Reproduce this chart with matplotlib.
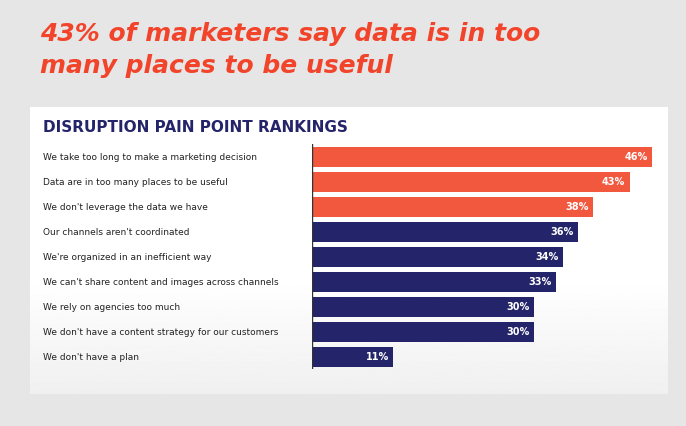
import matplotlib
matplotlib.use("Agg")
import matplotlib.pyplot as plt
import matplotlib.transforms as mtrans
import numpy as np

categories = ["We take too long to make a marketing decision",
              "Data are in too many places to be useful",
              "We don't leverage the data we have",
              "Our channels aren't coordinated",
              "We're organized in an inefficient way",
              "We can't share content and images across channels",
              "We rely on agencies too much",
              "We don't have a content strategy for our customers",
              "We don't have a plan"]
values = [46, 43, 38, 36, 34, 33, 30, 30, 11]
highlight = [True, True, True, False, False, False, False, False, False]

RED = "#f2583e"
NAVY = "#24246a"
W, H = 686, 427
fig = plt.figure(figsize=(W/100, H/100), dpi=100)
fig.patch.set_facecolor("#e6e6e6")

pax = fig.add_axes([30/W, 1-395/H, 638/W, 287/H])
t = np.linspace(0, 1, 256).reshape(-1, 1)
grad = np.where(t < 0.6, 1.0, 1 - (t - 0.6) * 0.15)
pax.imshow(grad, cmap="gray", vmin=0, vmax=1, aspect="auto", extent=[0, 1, 0, 1])
pax.set_axis_off()

fig.text(40/W, 1-50/H, "43% of marketers say data is in too\nmany places to be useful", color="#f2442a",
         fontsize=18, fontweight="bold", style="italic", va="center", ha="left", linespacing=1.4,
         family="DejaVu Sans")
fig.text(43/W, 1-127/H, "DISRUPTION PAIN POINT RANKINGS", color=NAVY, fontsize=11,
         fontweight="bold", va="center", ha="left")

ax = fig.add_axes([312/W, 1-370/H, (668-312)/W, 225/H])
ax.set_facecolor("none")
n = len(values)
y = np.arange(n)
colors = [RED if h else NAVY for h in highlight]
ax.barh(y, values, height=0.8, color=colors)
ax.set_ylim(n-0.5, -0.5)
ax.set_xlim(0, (668-312)/7.39)
for s in ax.spines.values():
    s.set_visible(False)
ax.axvline(0, color="#333333", lw=1)
ax.set_xticks([]); ax.set_yticks([])
for yi, v in zip(y, values):
    ax.text(v-0.6, yi, f"{v}%", color="white", fontsize=7, fontweight="bold", ha="right", va="center")
tr = mtrans.blended_transform_factory(fig.transFigure, ax.transData)
for yi, c in zip(y, categories):
    ax.text(43/W, yi, c, transform=tr, fontsize=6.5, color="#222222", ha="left", va="center")

fig.savefig("out.png", dpi=100)
